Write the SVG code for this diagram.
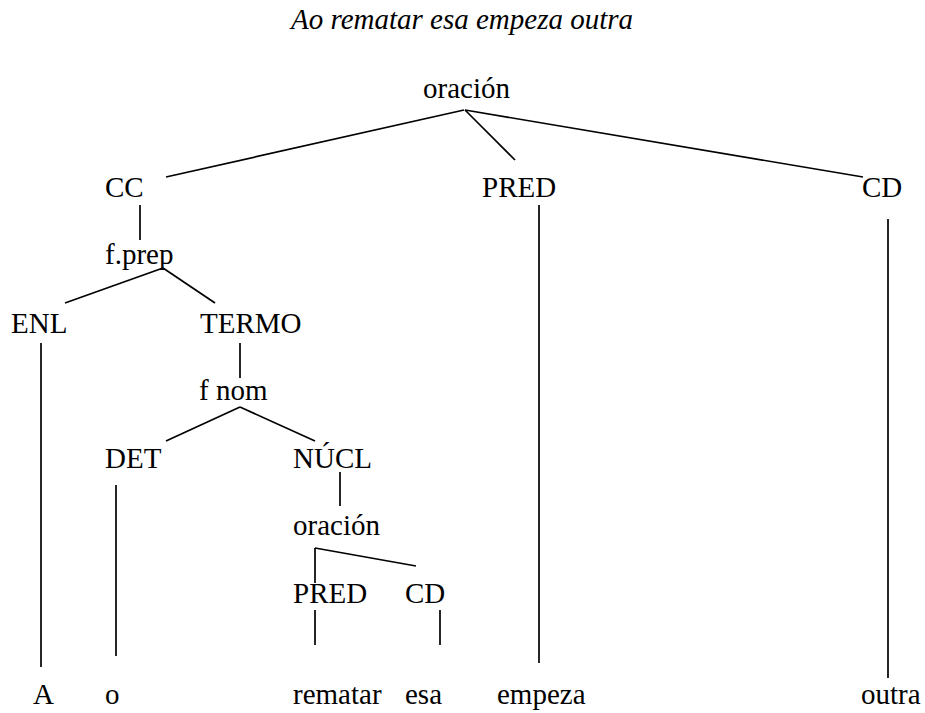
<svg xmlns="http://www.w3.org/2000/svg" width="925" height="713" viewBox="0 0 925 713">
<style>
text{font-family:"Liberation Serif","Times New Roman",serif;font-size:29px;fill:#000}
.t{font-style:italic}
line{stroke:#000;stroke-width:1.7;stroke-linecap:butt}
</style>
<rect width="925" height="713" fill="#fff"/>
<text class="t" x="462" y="29" text-anchor="middle">Ao rematar esa empeza outra</text>
<g id="connectors">
<line x1="464" y1="110" x2="166" y2="177"/>
<line x1="465" y1="110" x2="515" y2="160"/>
<line x1="465" y1="110" x2="863" y2="177"/>
<line x1="140" y1="205" x2="140" y2="240"/>
<line x1="163" y1="268" x2="65" y2="303"/>
<line x1="163" y1="268" x2="215" y2="303"/>
<line x1="539" y1="205" x2="539" y2="663"/>
<line x1="888" y1="219" x2="888" y2="678"/>
<line x1="41" y1="343" x2="41" y2="667"/>
<line x1="240" y1="343" x2="240" y2="378"/>
<line x1="240" y1="407" x2="166" y2="441"/>
<line x1="240" y1="407" x2="315" y2="441"/>
<line x1="340" y1="472" x2="340" y2="506"/>
<line x1="116" y1="485" x2="116" y2="656"/>
<line x1="315" y1="548" x2="315" y2="583"/>
<line x1="315" y1="548" x2="416" y2="566"/>
<line x1="315" y1="610" x2="315" y2="645"/>
<line x1="440" y1="610" x2="440" y2="645"/>
</g>
<g id="n-oracion"><text x="423" y="98">oración</text></g>
<g id="n-cc"><text x="105" y="197">CC</text></g>
<g id="n-pred"><text x="482" y="197">PRED</text></g>
<g id="n-cd"><text x="862" y="197">CD</text></g>
<g id="n-fprep"><text x="105" y="264">f.prep</text></g>
<g id="n-enl"><text x="11" y="333">ENL</text></g>
<g id="n-termo"><text x="200" y="333">TERMO</text></g>
<g id="n-fnom"><text x="199" y="400">f nom</text></g>
<g id="n-det"><text x="105" y="468">DET</text></g>
<g id="n-nucl"><text x="293" y="468">NÚCL</text></g>
<g id="n-oracion2"><text x="293" y="535">oración</text></g>
<g id="n-pred2"><text x="293" y="603">PRED</text></g>
<g id="n-cd2"><text x="405" y="603">CD</text></g>
<g id="w-a"><text x="33" y="704">A</text></g>
<g id="w-o"><text x="105" y="704">o</text></g>
<g id="w-rematar"><text x="293" y="704">rematar</text></g>
<g id="w-esa"><text x="405" y="704">esa</text></g>
<g id="w-empeza"><text x="497" y="704">empeza</text></g>
<g id="w-outra"><text x="861" y="704">outra</text></g>
</svg>
